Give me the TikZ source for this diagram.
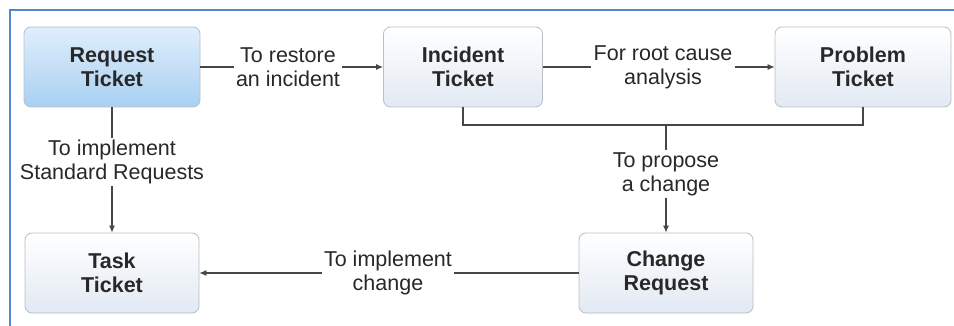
\documentclass[tikz,border=0pt]{standalone}
\usepackage{fontspec}
\setmainfont{Liberation Sans}
\usetikzlibrary{arrows.meta}
\definecolor{frameblue}{RGB}{80,135,205}
\definecolor{boxline}{RGB}{185,190,198}
\definecolor{boxtop}{RGB}{255,255,255}
\definecolor{boxbot}{RGB}{226,233,243}
\definecolor{reqtop}{RGB}{225,238,252}
\definecolor{reqbot}{RGB}{168,208,242}
\definecolor{conn}{RGB}{70,70,70}
\definecolor{txt}{RGB}{40,40,40}
\tikzset{
  ticket/.style={draw=boxline, line width=0.8pt, rounded corners=7pt,
    top color=boxtop, bottom color=boxbot, minimum height=80pt,
    align=center, font=\fontsize{21.5}{24}\selectfont\bfseries, text=txt, inner sep=0pt},
  reqticket/.style={ticket, top color=reqtop, bottom color=reqbot},
  lbl/.style={fill=white, align=center, font=\fontsize{21.5}{24}\selectfont, text=txt, inner sep=2pt},
  conn/.style={draw=conn, line width=1.1pt},
  arr/.style={conn, -{Latex[length=7pt,width=6pt]}}
}
\begin{document}
\begin{tikzpicture}[x=1pt,y=-1pt]
\useasboundingbox (0,0) rectangle (954,326);
\fill[white] (0,0) rectangle (954,326);
\draw[frameblue, line width=1.6pt] (10,326) -- (10,10) -- (954,10);

\node[reqticket, minimum width=176pt] (req) at (112,67) {Request\\Ticket};
\node[ticket, minimum width=159pt] (inc) at (463,67) {Incident\\Ticket};
\node[ticket, minimum width=176pt] (prob) at (863,67) {Problem\\Ticket};
\node[ticket, minimum width=174pt] (task) at (112,273) {Task\\Ticket};
\node[ticket, minimum width=174pt] (chg) at (666,273) {Change\\Request};

\node[lbl] (l1) at (288,67) {To restore\\an incident};
\node[lbl] (l2) at (663,67) {For root cause\\analysis};
\node[lbl] (l3) at (666,174) {To propose\\a change};
\node[lbl] (l4) at (112,162) {To implement\\Standard Requests};
\node[lbl] (l5) at (388,273) {To implement\\change};

\coordinate (jm) at (666,125);

\draw[conn] (req.east) -- (l1.west);
\draw[arr] (l1.east) -- (inc.west);
\draw[conn] (inc.east) -- (l2.west);
\draw[arr] (l2.east) -- (prob.east -| prob.west);
\draw[conn] (inc.south) -- (inc.south |- jm) -- (prob.south |- jm) -- (prob.south);
\draw[conn] (jm) -- (l3.north);
\draw[arr] (l3.south) -- (chg.north);
\draw[conn] (req.south) -- (l4.north);
\draw[arr] (l4.south) -- (task.north);
\draw[conn] (chg.west) -- (l5.east);
\draw[arr] (l5.west) -- (task.east);
\end{tikzpicture}
\end{document}
